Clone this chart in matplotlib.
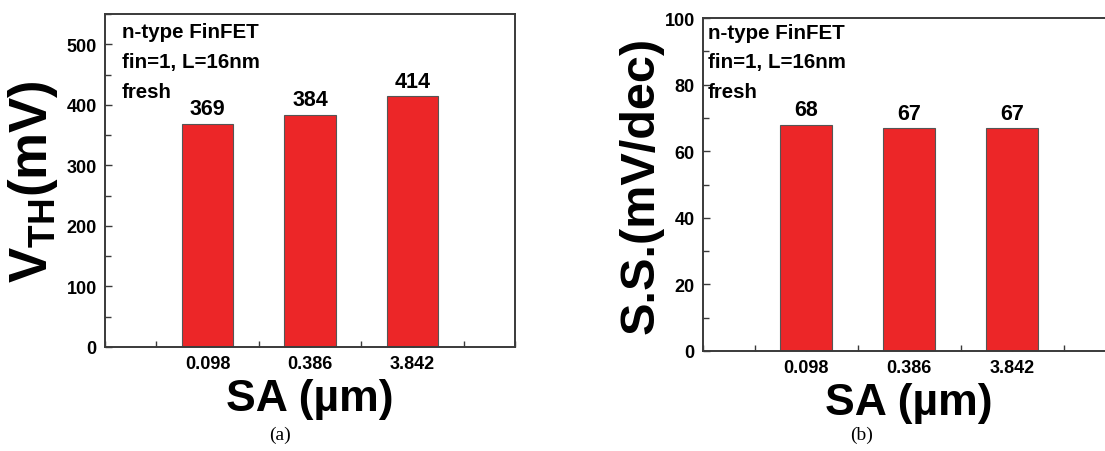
import numpy as np
import matplotlib
matplotlib.use("Agg")
import matplotlib.pyplot as plt
from matplotlib.ticker import MultipleLocator

plt.rcParams['font.family'] = ['Liberation Sans', 'DejaVu Sans']
plt.rcParams['font.weight'] = 'bold'
plt.rcParams['mathtext.fontset'] = 'custom'
plt.rcParams['mathtext.bf'] = 'Liberation Sans:bold'
plt.rcParams['mathtext.rm'] = 'Liberation Sans:bold'
plt.rcParams['mathtext.default'] = 'bf'

# data
sa_labels = ['0.098', '0.386', '3.842']
vth = [369, 384, 414]
ss = [68, 67, 67]
notes = ['n-type FinFET', 'fin=1, L=16nm', 'fresh']

bar_red = '#ec2628'
spine_c = '#3a3a3a'

fig = plt.figure(figsize=(11.05, 4.52), dpi=100)
ax_a = fig.add_axes([105/1105, 1-348/452, 410/1105, 333/452])
ax_b = fig.add_axes([703/1105, 1-352/452, 412/1105, 333/452])

def style(ax, vals, ymax, ymaj, ymin, ylabel, ylab_size, note_x, note_ys, ylab_x):
    x = np.arange(1, len(vals)+1)
    ax.bar(x, vals, width=0.5, color=bar_red, edgecolor='#555555', linewidth=0.8, zorder=2)
    for xi, v in zip(x, vals):
        ax.annotate(str(v), (xi, v), xytext=(0, 3), textcoords='offset points',
                    ha='center', va='bottom', fontsize=15.5, fontweight='bold')
    ax.set_xlim(0, 4)
    ax.set_ylim(0, ymax)
    ax.set_xticks(x)
    ax.set_xticklabels(sa_labels)
    ax.xaxis.set_minor_locator(MultipleLocator(0.5))
    ax.yaxis.set_major_locator(MultipleLocator(ymaj))
    ax.yaxis.set_minor_locator(MultipleLocator(ymin))
    ax.tick_params(which='both', direction='in', top=False, right=False,
                   color=spine_c, width=1.0)
    ax.tick_params(which='major', length=5, labelsize=13, pad=6)
    ax.tick_params(which='minor', length=4)
    for s in ax.spines.values():
        s.set_color(spine_c)
        s.set_linewidth(1.4)
    ax.set_xlabel('SA (µm)', fontsize=32, fontweight='bold', labelpad=4)
    ax.set_ylabel(ylabel, fontsize=ylab_size, fontweight='bold')
    ax.yaxis.set_label_coords(ylab_x, 0.5)
    for t, yy in zip(notes, note_ys):
        ax.text(note_x, yy, t, transform=ax.transAxes, fontsize=14.8,
                fontweight='bold', ha='left', va='baseline')

style(ax_a, vth, 550, 100, 50, 'V$_{TH}$(mV)', 38, 0.041, [0.931, 0.841, 0.751], -0.11)
style(ax_b, ss, 100, 20, 10, 'S.S.(mV/dec)', 35, 0.012, [0.940, 0.853, 0.763], -0.095)

fig.text(280/1105, 1-435/452, '(a)', family='Liberation Serif', fontweight='normal',
         fontsize=14, ha='center', va='center')
fig.text(862/1105, 1-435/452, '(b)', family='Liberation Serif', fontweight='normal',
         fontsize=14, ha='center', va='center')

fig.savefig('out.png', dpi=100)
